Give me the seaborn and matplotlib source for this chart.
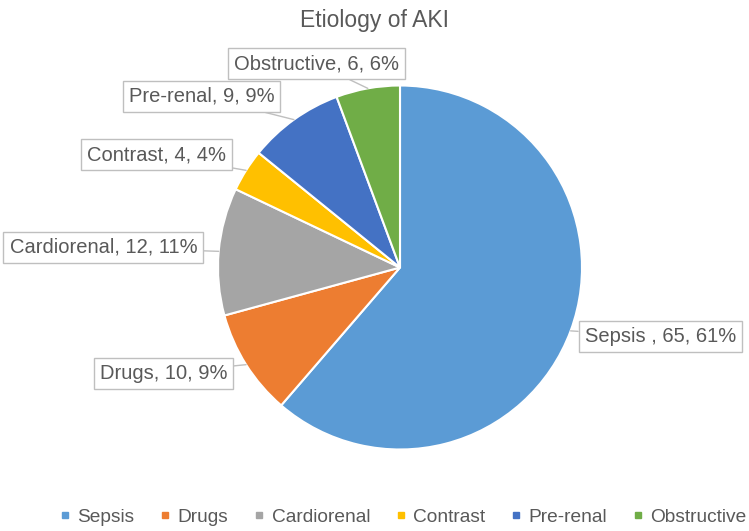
import numpy as np
import matplotlib.pyplot as plt
import seaborn as sns
from matplotlib.lines import Line2D

# data
categories = ['Sepsis ', 'Drugs', 'Cardiorenal', 'Contrast', 'Pre-renal', 'Obstructive']
counts = [65, 10, 12, 4, 9, 6]
pct_labels = [61, 9, 11, 4, 9, 6]
colors = ['#5B9BD5', '#ED7D31', '#A5A5A5', '#FFC000', '#4472C4', '#70AD47']

# where each callout box sits, in pie-radius units from the centre
label_pos = [(1.43, -0.38), (-1.30, -0.58), (-1.63, 0.11),
             (-1.34, 0.62), (-1.09, 0.94), (-0.46, 1.12)]

sns.set_theme(style='white')
plt.rcParams['font.family'] = ['Liberation Sans', 'DejaVu Sans']
txt_color = '#595959'

W, H = 749, 531
cx, cy, R = 400, 267.5, 182
fig = plt.figure(figsize=(W / 100, H / 100), dpi=100)
ax = fig.add_axes([0, 0, 1, 1])

wedges, _ = ax.pie(counts, colors=colors, startangle=90, counterclock=False,
                   radius=1, center=(0, 0),
                   wedgeprops=dict(edgecolor='white', linewidth=1.5))
ax.set_xlim(-cx / R, (W - cx) / R)
ax.set_ylim(-(H - cy) / R, cy / R)
ax.axis('off')

for w, cat, n, p, pos in zip(wedges, categories, counts, pct_labels, label_pos):
    mid = np.deg2rad((w.theta1 + w.theta2) / 2)
    ax.annotate(f'{cat}, {n}, {p}%', xy=(np.cos(mid), np.sin(mid)), xytext=pos,
                ha='center', va='center', fontsize=14.5, color=txt_color,
                bbox=dict(boxstyle='square,pad=0.3', fc='white', ec='#BFBFBF', lw=1),
                arrowprops=dict(arrowstyle='-', color='#BFBFBF', lw=1,
                                shrinkA=0, shrinkB=0))

fig.text(0.5, 1 - 20 / H, 'Etiology of AKI', ha='center', va='center',
         fontsize=16.5, color=txt_color)

handles = [Line2D([], [], marker='s', linestyle='', markersize=5,
                  markerfacecolor=c, markeredgecolor=c) for c in colors]
fig.legend(handles, [c.strip() for c in categories], loc='center', ncol=6,
           bbox_to_anchor=(403 / W, 14 / H), frameon=False, fontsize=13.8,
           labelcolor=txt_color, handlelength=0.6, handletextpad=0.35,
           columnspacing=1.3, borderpad=0.2, borderaxespad=0)

fig.savefig('out.png', dpi=100)
